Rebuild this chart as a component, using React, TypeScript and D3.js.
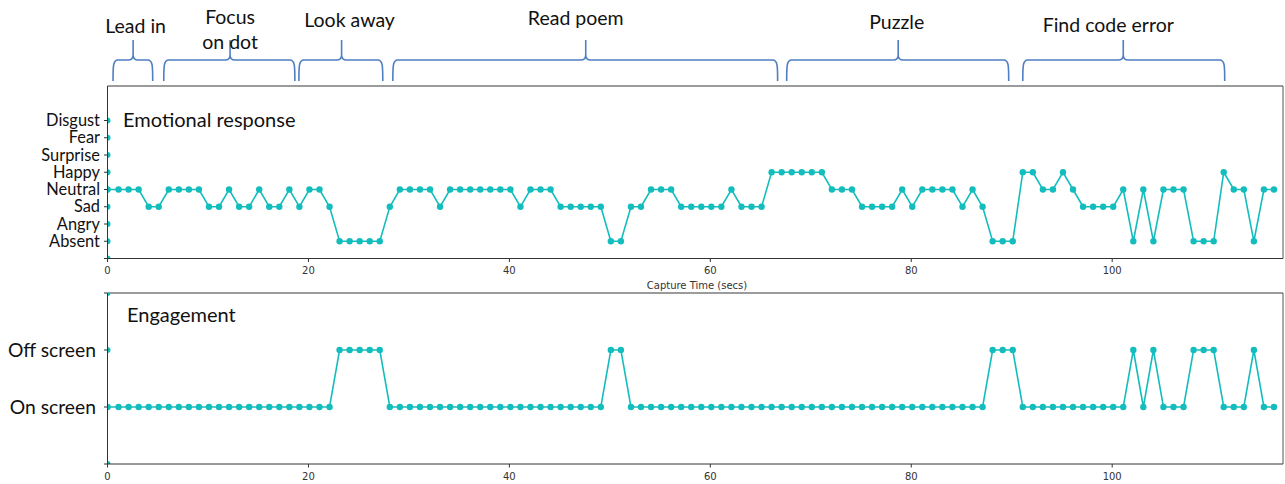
import React from "react";
import * as d3 from "d3";

// category axes (index = plotted level)
const emotionLevels = ["", "Absent", "Angry", "Sad", "Neutral", "Happy", "Surprise", "Fear", "Disgust"];
const engagementLevels = ["", "On screen", "Off screen", ""];

// one sample per second of capture
const emotion = [
  "Neutral", "Neutral", "Neutral", "Neutral", "Sad", "Sad", "Neutral", "Neutral", "Neutral", "Neutral",
  "Sad", "Sad", "Neutral", "Sad", "Sad", "Neutral", "Sad", "Sad", "Neutral", "Sad",
  "Neutral", "Neutral", "Sad", "Absent", "Absent", "Absent", "Absent", "Absent", "Sad", "Neutral",
  "Neutral", "Neutral", "Neutral", "Sad", "Neutral", "Neutral", "Neutral", "Neutral", "Neutral", "Neutral",
  "Neutral", "Sad", "Neutral", "Neutral", "Neutral", "Sad", "Sad", "Sad", "Sad", "Sad",
  "Absent", "Absent", "Sad", "Sad", "Neutral", "Neutral", "Neutral", "Sad", "Sad", "Sad",
  "Sad", "Sad", "Neutral", "Sad", "Sad", "Sad", "Happy", "Happy", "Happy", "Happy",
  "Happy", "Happy", "Neutral", "Neutral", "Neutral", "Sad", "Sad", "Sad", "Sad", "Neutral",
  "Sad", "Neutral", "Neutral", "Neutral", "Neutral", "Sad", "Neutral", "Sad", "Absent", "Absent",
  "Absent", "Happy", "Happy", "Neutral", "Neutral", "Happy", "Neutral", "Sad", "Sad", "Sad",
  "Sad", "Neutral", "Absent", "Neutral", "Absent", "Neutral", "Neutral", "Neutral", "Absent", "Absent",
  "Absent", "Happy", "Neutral", "Neutral", "Absent", "Neutral", "Neutral",
];

const engagement = [
  "On screen", "On screen", "On screen", "On screen", "On screen", "On screen", "On screen", "On screen", "On screen", "On screen",
  "On screen", "On screen", "On screen", "On screen", "On screen", "On screen", "On screen", "On screen", "On screen", "On screen",
  "On screen", "On screen", "On screen", "Off screen", "Off screen", "Off screen", "Off screen", "Off screen", "On screen", "On screen",
  "On screen", "On screen", "On screen", "On screen", "On screen", "On screen", "On screen", "On screen", "On screen", "On screen",
  "On screen", "On screen", "On screen", "On screen", "On screen", "On screen", "On screen", "On screen", "On screen", "On screen",
  "Off screen", "Off screen", "On screen", "On screen", "On screen", "On screen", "On screen", "On screen", "On screen", "On screen",
  "On screen", "On screen", "On screen", "On screen", "On screen", "On screen", "On screen", "On screen", "On screen", "On screen",
  "On screen", "On screen", "On screen", "On screen", "On screen", "On screen", "On screen", "On screen", "On screen", "On screen",
  "On screen", "On screen", "On screen", "On screen", "On screen", "On screen", "On screen", "On screen", "Off screen", "Off screen",
  "Off screen", "On screen", "On screen", "On screen", "On screen", "On screen", "On screen", "On screen", "On screen", "On screen",
  "On screen", "On screen", "Off screen", "On screen", "Off screen", "On screen", "On screen", "On screen", "Off screen", "Off screen",
  "Off screen", "On screen", "On screen", "On screen", "Off screen", "On screen", "On screen",
];

const firstSample = 0.1; // secs of the first capture after t=0
const xTicks = [0, 20, 40, 60, 80, 100];

// task phases (secs): start, brace point, end
const phaseNames = [["Lead in"], ["Focus", "on dot"], ["Look away"], ["Read poem"], ["Puzzle"], ["Find code error"]];
const phaseStart = [0.55, 5.6, 19.05, 28.4, 67.6, 91.1];
const phasePeak = [2.55, 12.2, 23.3, 47.6, 78.7, 101.1];
const phaseEnd = [4.5, 18.65, 27.4, 66.7, 89.7, 111.2];

// layout
const W = 1285, H = 484;
const LEFT = 107.5, RIGHT = 1283;
const TEAL = "#14bdbd";
const BLUE = "#4f7fc2";
const LABEL_FONT = "Lato, 'Open Sans', sans-serif";
const TICK_FONT = "'DejaVu Sans', sans-serif";
const labelPos = [
  { dx: 2.5, y: [33] },
  { dx: 0, y: [24, 49] },
  { dx: 8, y: [27] },
  { dx: -10, y: [25] },
  { dx: -1.5, y: [29] },
  { dx: -15, y: [32] },
];

function times(n: number) {
  return d3.range(n).map((i) => (i === 0 ? 0 : i + firstSample));
}

function Brace({ x1, xm, x2 }: { x1: number; xm: number; x2: number }) {
  const yEnd = 81, yH = 60, yTip = 40, r = 5;
  const d = [
    `M${x1},${yEnd}`,
    `C${x1},${yH + 6} ${x1},${yH} ${x1 + r},${yH}`,
    `L${xm - r},${yH}`,
    `Q${xm},${yH} ${xm},${yH - r}`,
    `L${xm},${yTip}`,
    `M${xm},${yH - r}`,
    `Q${xm},${yH} ${xm + r},${yH}`,
    `L${x2 - r},${yH}`,
    `C${x2},${yH} ${x2},${yH + 6} ${x2},${yEnd}`,
  ].join(" ");
  return <path d={d} fill="none" stroke={BLUE} strokeWidth={1.6} />;
}

function Panel(props: {
  id: string;
  top: number;
  bottom: number;
  levels: string[];
  yMax: number;
  series: string[];
  title: string;
  titleX: number;
  titleY: number;
  labelSize: number;
  labelRight: number;
  xLabel?: string;
}) {
  const { id, top, bottom, levels, yMax, series, title, titleX, titleY, labelSize, labelRight, xLabel } = props;
  const x = d3.scaleLinear().domain([0, 117]).range([LEFT, RIGHT]);
  const y = d3.scaleLinear().domain([0, yMax]).range([bottom, top]);
  const ts = times(series.length);
  const pts: [number, number][] = series.map((s, i) => [ts[i], levels.indexOf(s)]);
  const line = d3
    .line<[number, number]>()
    .x((d) => x(d[0]))
    .y((d) => y(d[1]));

  return (
    <g>
      <defs>
        <clipPath id={id}>
          <rect x={LEFT} y={top} width={RIGHT - LEFT} height={bottom - top} />
        </clipPath>
      </defs>
      {/* frame */}
      <line x1={LEFT} x2={RIGHT} y1={top} y2={top} stroke="#7a7a7a" strokeWidth={1.3} />
      <line x1={RIGHT} x2={RIGHT} y1={top} y2={bottom} stroke="#555" strokeWidth={1} />
      <g clipPath={`url(#${id})`}>
        <path d={line(pts) || ""} fill="none" stroke={TEAL} strokeWidth={1.6} />
        {pts.map((p, i) => (
          <circle key={i} cx={x(p[0])} cy={y(p[1])} r={3.2} fill={TEAL} />
        ))}
        {levels.map((_, i) => (
          <circle key={"c" + i} cx={x(0)} cy={y(i)} r={3} fill={TEAL} />
        ))}
      </g>
      <line x1={LEFT} x2={LEFT} y1={top} y2={bottom} stroke="#333" strokeWidth={1} />
      <line x1={LEFT} x2={RIGHT} y1={bottom} y2={bottom} stroke="#333" strokeWidth={1} />
      {/* y ticks */}
      {levels.map((lab, i) => (
        <g key={"y" + i}>
          <line x1={LEFT - 3.5} x2={LEFT} y1={y(i)} y2={y(i)} stroke="#333" strokeWidth={1} />
          {lab && (
            <text
              x={labelRight}
              y={y(i)}
              dy="0.35em"
              textAnchor="end"
              fontFamily={LABEL_FONT}
              fontSize={labelSize}
              fill="#111"
            >
              {lab}
            </text>
          )}
        </g>
      ))}
      {/* x ticks */}
      {xTicks.map((t) => (
        <g key={"x" + t}>
          <line x1={x(t)} x2={x(t)} y1={bottom} y2={bottom + 3.5} stroke="#333" strokeWidth={1} />
          <text
            x={x(t)}
            y={bottom + 12}
            dy="0.35em"
            textAnchor="middle"
            fontFamily={TICK_FONT}
            fontSize={10}
            fill="#333"
          >
            {t}
          </text>
        </g>
      ))}
      {xLabel && (
        <text
          x={697}
          y={bottom + 27}
          dy="0.35em"
          textAnchor="middle"
          fontFamily={TICK_FONT}
          fontSize={10}
          fill="#333"
        >
          {xLabel}
        </text>
      )}
      <text x={titleX} y={titleY} dy="0.35em" fontFamily={LABEL_FONT} fontSize={20} fill="#111">
        {title}
      </text>
    </g>
  );
}

export default function App() {
  const x = d3.scaleLinear().domain([0, 117]).range([LEFT, RIGHT]);
  return (
    <svg
      width={W}
      height={H}
      style={{ position: "absolute", left: 0, top: 0, background: "#fff" }}
    >
      <rect width={W} height={H} fill="#fff" />
      {phaseNames.map((lines, i) => (
        <g key={i}>
          <Brace x1={x(phaseStart[i])} xm={x(phasePeak[i])} x2={x(phaseEnd[i])} />
          {lines.map((ln, j) => (
            <text
              key={j}
              x={x(phasePeak[i]) + labelPos[i].dx}
              y={labelPos[i].y[j]}
              textAnchor="middle"
              fontFamily={LABEL_FONT}
              fontSize={19.5}
              fill="#111"
            >
              {ln}
            </text>
          ))}
        </g>
      ))}
      <Panel
        id="clipEmotion"
        top={86}
        bottom={258.5}
        levels={emotionLevels}
        yMax={10}
        series={emotion}
        title="Emotional response"
        titleX={123}
        titleY={120}
        labelSize={16.4}
        labelRight={100}
        xLabel="Capture Time (secs)"
      />
      <Panel
        id="clipEngagement"
        top={293}
        bottom={464}
        levels={engagementLevels}
        yMax={3}
        series={engagement}
        title="Engagement"
        titleX={127}
        titleY={315}
        labelSize={19.3}
        labelRight={96}
      />
    </svg>
  );
}
